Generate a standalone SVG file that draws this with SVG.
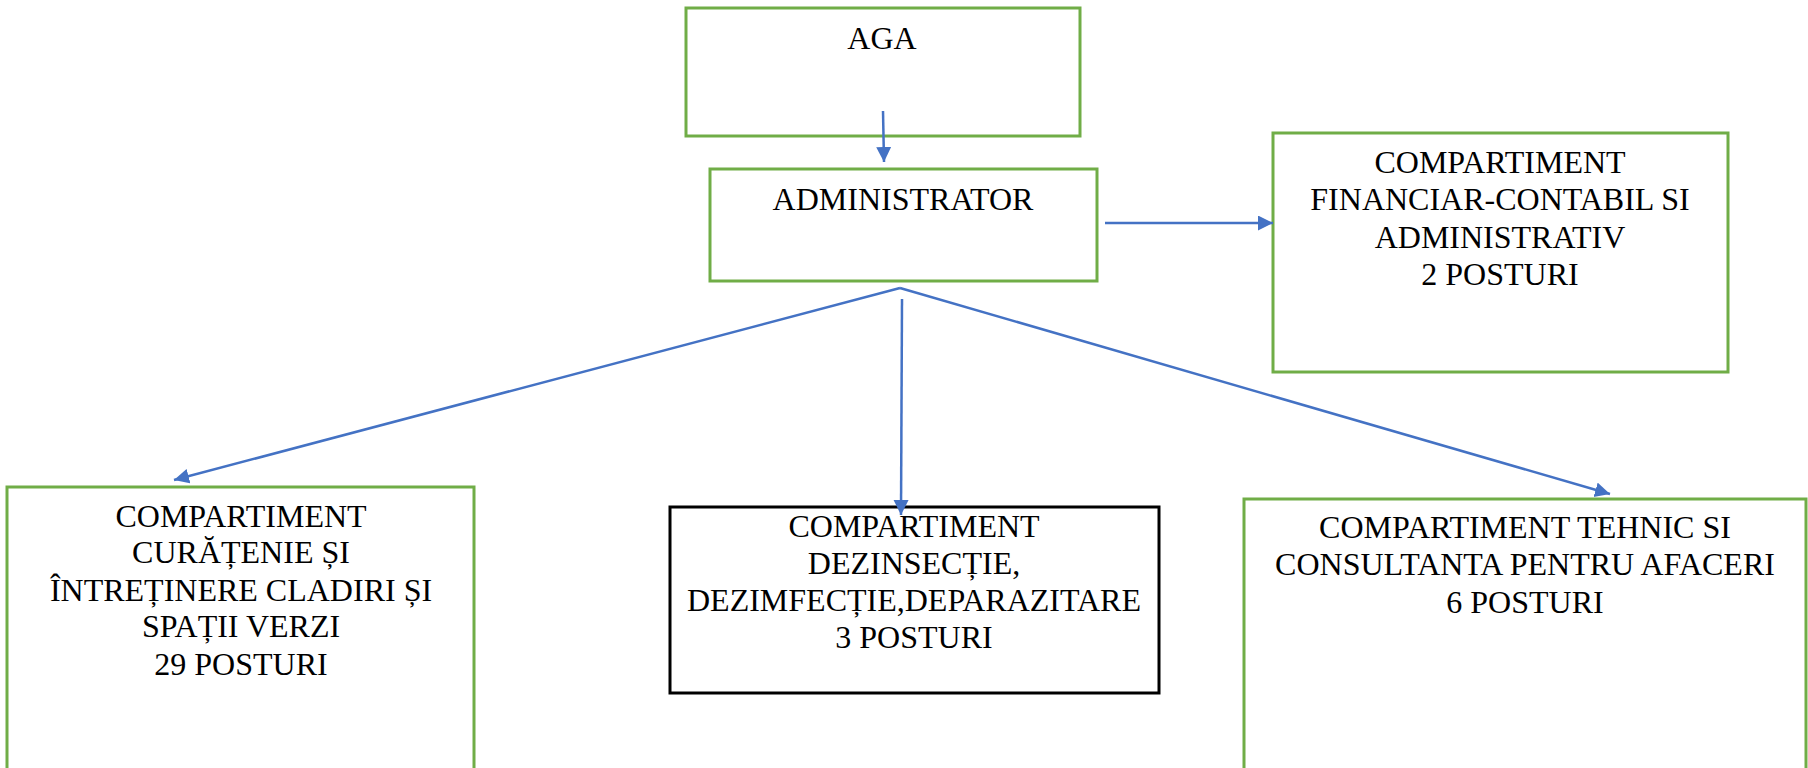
<svg xmlns="http://www.w3.org/2000/svg" width="1808" height="768" viewBox="0 0 1808 768">
<defs>
<marker id="arr" markerUnits="userSpaceOnUse" markerWidth="16" markerHeight="16" refX="15" refY="7.5" orient="auto">
<path d="M0,0 L15,7.5 L0,15 z" fill="#4472c4"/>
</marker>
<style>
.g{fill:#fff;stroke:#70ad47;stroke-width:3}
.k{fill:#fff;stroke:#000;stroke-width:3}
.c{stroke:#4472c4;stroke-width:2.5;fill:none;marker-end:url(#arr)}
.t{font-family:'Liberation Serif','Times New Roman',serif;font-size:32px;fill:#000;text-anchor:middle}
</style>
</defs>
<rect width="1808" height="768" fill="#fff"/>
<g id="aga">
<rect class="g" x="686" y="8" width="394" height="128"/>
<text class="t" x="882" y="49">AGA</text>
</g>
<g id="administrator">
<rect class="g" x="710" y="169" width="387" height="112"/>
<text class="t" x="903" y="210">ADMINISTRATOR</text>
</g>
<g id="financiar">
<rect class="g" x="1273" y="133" width="455" height="239"/>
<text class="t" x="1500" y="173">COMPARTIMENT</text>
<text class="t" x="1500" y="210">FINANCIAR-CONTABIL SI</text>
<text class="t" x="1500" y="248">ADMINISTRATIV</text>
<text class="t" x="1500" y="285">2 POSTURI</text>
</g>
<g id="curatenie">
<rect class="g" x="7" y="487" width="467" height="320"/>
<text class="t" x="241" y="527">COMPARTIMENT</text>
<text class="t" x="241" y="563">CURĂȚENIE ȘI</text>
<text class="t" x="241" y="601">ÎNTREȚINERE CLADIRI ȘI</text>
<text class="t" x="241" y="637">SPAȚII VERZI</text>
<text class="t" x="241" y="675">29 POSTURI</text>
</g>
<g id="dezinsectie">
<rect class="k" x="670" y="507" width="489" height="186"/>
<text class="t" x="914" y="537">COMPARTIMENT</text>
<text class="t" x="914" y="574">DEZINSECȚIE,</text>
<text class="t" x="914" y="611">DEZIMFECȚIE,DEPARAZITARE</text>
<text class="t" x="914" y="648">3 POSTURI</text>
</g>
<g id="tehnic">
<rect class="g" x="1244" y="499" width="562" height="320"/>
<text class="t" x="1525" y="538">COMPARTIMENT TEHNIC SI</text>
<text class="t" x="1525" y="575">CONSULTANTA PENTRU AFACERI</text>
<text class="t" x="1525" y="613">6 POSTURI</text>
</g>
<g id="connectors">
<line class="c" x1="883" y1="111" x2="884" y2="162"/>
<line class="c" x1="1105" y1="223" x2="1273" y2="223"/>
<line class="c" x1="900" y1="288" x2="174" y2="480"/>
<line class="c" x1="902" y1="299" x2="901" y2="515"/>
<line class="c" x1="900" y1="288" x2="1610" y2="494"/>
</g>
</svg>
